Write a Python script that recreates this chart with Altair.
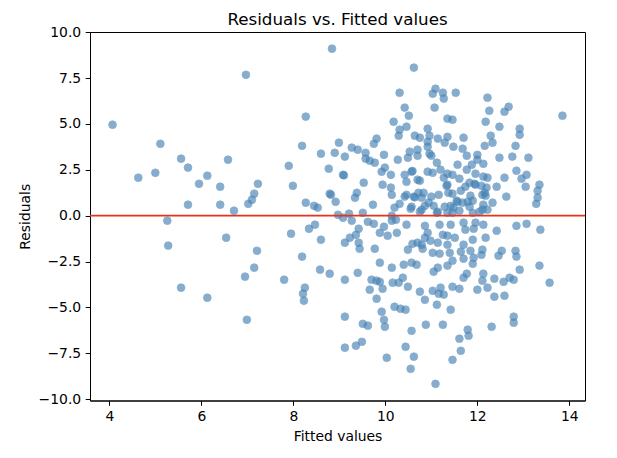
import altair as alt
import pandas as pd

# Fitted values (x) and residuals (y)
fitted = [
    4.07, 4.63, 5.00, 5.11, 5.26, 5.28, 5.56, 5.56, 5.71, 5.71,
    5.95, 6.13, 6.13, 6.41, 6.41, 6.54, 6.58, 6.71, 6.97, 6.95,
    6.99, 7.02, 7.10, 7.15, 7.15, 7.21, 7.23, 7.80, 7.90, 7.95,
    7.99,
    8.19, 8.27, 8.19, 8.25, 8.21, 8.23, 8.27, 8.34, 8.45, 8.47,
    8.53, 8.58, 8.60, 8.60, 8.77, 8.79, 8.79,
    8.84, 8.82, 8.92, 8.90, 8.99, 8.97, 9.08, 9.10, 9.08, 9.12,
    9.12, 9.12, 9.12, 9.12, 9.23, 9.27, 9.27, 9.36, 9.34, 9.38,
    9.36, 9.40, 9.40, 9.42, 9.42, 9.44, 9.21,
    9.49, 9.51, 9.51, 9.53, 9.57, 9.57, 9.66, 9.62, 9.62, 9.66,
    9.70, 9.73, 9.75, 9.75, 9.77, 9.77, 9.81, 9.81, 9.81, 9.88,
    9.88, 9.88, 9.92, 9.92, 9.94, 9.94, 9.97, 9.97, 9.97, 9.99,
    9.99, 10.03, 10.05, 10.12, 10.12, 10.14, 10.14, 10.14, 10.14, 10.16,
    10.18, 10.20, 10.20,
    10.23, 10.25, 10.27, 10.29, 10.29, 10.31, 10.31, 10.31, 10.33, 10.38,
    10.42, 10.42, 10.42, 10.44, 10.44, 10.46, 10.46, 10.46, 10.46, 10.49,
    10.49, 10.49, 10.51, 10.53, 10.55, 10.55, 10.57, 10.59, 10.57, 10.57,
    10.57, 10.59, 10.62, 10.62, 10.64, 10.62, 10.64, 10.68, 10.70, 10.70,
    10.70, 10.70, 10.72, 10.75, 10.75, 10.75, 10.75, 10.79, 10.79, 10.79,
    10.40,
    10.81, 10.83, 10.86, 10.86, 10.86, 10.86, 10.88, 10.92, 10.92, 10.92,
    10.92, 10.92, 10.94, 10.96, 10.96, 10.98, 11.00, 11.00, 11.03, 11.09,
    11.03, 11.03, 11.03, 11.05, 11.05, 11.07, 11.09, 11.12, 11.12, 11.12,
    11.14, 11.14, 11.14, 11.14, 11.16, 11.16, 11.18, 11.18, 11.20, 11.25,
    11.25, 11.25, 11.27, 11.27, 11.27, 11.29, 11.29, 11.33, 11.35, 11.35,
    11.35, 11.35, 11.35, 11.35, 11.35, 11.37, 11.40, 11.20, 11.35,
    11.42, 11.42, 11.42, 11.46, 11.46, 11.46, 11.46, 11.46, 11.46, 11.46,
    11.48, 11.48, 11.51, 11.53, 11.55, 11.57, 11.57, 11.61, 11.61, 11.61,
    11.61, 11.64, 11.64, 11.64, 11.68, 11.68, 11.70, 11.70, 11.70, 11.70,
    11.70, 11.74, 11.74, 11.77, 11.77, 11.77, 11.79, 11.79, 11.81, 11.83,
    11.83, 11.85, 11.85, 11.88, 11.90, 11.90, 11.90, 11.90, 11.92, 11.92,
    11.94, 11.96, 11.96, 11.96, 12.00, 12.00, 12.00, 12.05,
    12.09, 12.09, 12.11, 12.11, 12.11, 12.11, 12.13, 12.13, 12.13, 12.13,
    12.13, 12.16, 12.16, 12.18, 12.18, 12.18, 12.20, 12.22, 12.22, 12.22,
    12.22, 12.26, 12.29, 12.33, 12.33, 12.31, 12.37, 12.37, 12.42, 12.42,
    12.46, 12.48, 12.48, 12.53, 12.57, 12.59, 12.59, 12.59, 12.63, 12.68,
    12.70,
    12.76, 12.79, 12.79, 12.79, 12.83, 12.83, 12.85, 12.85, 12.85, 12.92,
    12.92, 12.92, 12.96, 13.05, 13.07, 13.07, 13.11, 13.28, 13.31, 13.31,
    13.35, 13.35, 13.37, 13.57, 13.85,
]
residuals = [
    4.96, 2.07, 2.34, 3.92, -0.27, -1.63, 3.11, -3.92, 2.62, 0.60,
    1.74, 2.18, -4.47, 1.58, 0.60, -1.20, 3.05, 0.27, 7.68, -3.32,
    -5.67, 0.65, 0.87, 1.20, -2.83, -1.91, 1.74, -3.49, 2.72, -0.98,
    1.63,
    3.81, 5.40, -2.23, -3.92, -4.25, -4.63, 0.71, -0.71, 0.54, -0.49,
    0.44, -2.94, -1.31, 3.38, 2.56, 1.20, -3.16,
    9.10, 1.14, 0.76, 3.43, 3.98, 0.05, 2.23, 2.20, -0.11, 3.22,
    -1.47, -3.49, -5.50, -7.19, -1.20, 3.71, -0.27, -1.04, 0.98, 1.25,
    -7.08, 3.60, -3.11, -0.71, -1.47, -1.80, 0.11,
    -6.87, 0.16, -5.89, 1.80, 3.43, 3.11, 3.00, -0.33, -5.99, -4.03,
    -3.49, 0.60, 3.92, -0.44, 2.89, -1.80, 4.20, -3.54, -4.52, -0.93,
    -2.56, -3.60, 2.40, -5.23, 1.69, -3.98, 3.32, -0.60, -5.67, 2.62,
    -6.05, -7.74, -1.09, 2.23, 1.53, 1.14, 0.00, -0.27, -2.83, -3.65,
    5.12, 0.44, -4.96,
    -0.22, -0.93, 3.05, 4.36, -3.65, 6.70, 4.69, 0.65, -5.07, -3.38,
    1.04, 2.23, 5.89, -5.12, -7.14, 4.85, 1.85, 1.14, -0.49, 3.16,
    -1.85, -3.87, 5.45, 3.49, 0.38, -8.34, 2.40, 2.44, 0.49, -2.56,
    -6.27, -1.53, 8.07, 1.04, 1.00, -7.68, 4.36, -2.67, 3.60, 3.27,
    1.96, -1.47, 1.25, 4.25, 1.91, 0.22, -4.14, 0.98, 0.33, -1.58,
    -2.67,
    -1.80, 1.25, 0.54, -0.55, -1.20, -4.58, -5.94, 4.74, 4.03, 3.76,
    2.40, -0.93, 0.71, 4.36, 3.38, -1.36, 3.27, 1.04, 6.65, 6.92,
    2.34, -2.02, -4.09, 0.54, -3.05, 5.89, -9.16, 2.89, 0.16, -4.85,
    4.20, 0.22, -1.47, -2.83, 1.14, -4.25, -0.49, -2.07, 2.51, 6.70,
    -1.04, -5.94, 6.38, 2.07, -4.30, 3.98, 0.49, 1.63, 5.29, 4.30,
    2.29, 1.69, -1.09, -1.58, -2.72, 1.25, -2.02, -3.92, 0.16,
    0.54, -0.49, -5.12, 5.23, 2.23, 1.20, 0.16, -2.45, -3.87, -7.85,
    3.76, 0.44, -1.20, 6.70, 0.82, 2.78, 0.76, 2.02, 0.27, -3.98,
    -6.70, 1.36, -1.96, -7.36, 3.65, 0.71, 4.25, -0.38, -1.58, -2.34,
    -3.38, 1.58, -0.76, 3.27, 2.51, -3.16, 0.76, -6.21, -6.54, 1.80,
    0.49, 1.09, -1.91, 2.78, 0.82, 0.16, -1.31, -2.62, -0.71, -2.29,
    1.74, 2.29, 1.69, -0.38, 3.32, 3.05, -4.03, 0.22,
    1.63, -2.13, 1.14, 0.33, -1.85, -3.54, 2.83, 2.13, 0.60, -0.49,
    -3.16, 3.81, 1.25, 5.12, 1.09, -1.20, 1.53, 6.43, 2.07, 0.33,
    -3.92, 5.72, 4.36, 3.98, 0.71, -6.05, -3.43, -4.41, 1.58, -0.82,
    -2.18, 4.85, 3.16, -1.91, -3.60, 5.67, 2.07, -4.36, 1.04, 5.94,
    -3.38,
    3.22, -3.49, -5.50, -5.83, 3.81, -1.91, 2.45, -0.55, -2.23, 4.74,
    4.41, -2.94, 2.02, 1.58, 2.23, -0.44, 3.16, 0.65, 1.36, 0.98,
    1.69, -2.72, -0.76, -3.65, 5.45,
]

x_ticks = [4, 6, 8, 10, 12, 14]
y_ticks = [-10.0, -7.5, -5.0, -2.5, 0.0, 2.5, 5.0, 7.5, 10.0]
zero_line = [0.0]

df = pd.DataFrame({"fitted": fitted, "resid": residuals})
zdf = pd.DataFrame({"y": zero_line})

FONT = "DejaVu Sans"

points = alt.Chart(df).mark_circle(
    size=60, color="#4682b4", opacity=0.65, stroke="#4682b4", strokeWidth=0.8
).encode(
    x=alt.X(
        "fitted:Q",
        scale=alt.Scale(domain=[3.58, 14.34], nice=False, zero=False),
        axis=alt.Axis(values=x_ticks, format="d", title="Fitted values",
                      titlePadding=6),
    ),
    y=alt.Y(
        "resid:Q",
        scale=alt.Scale(domain=[-10.07, 10.01], nice=False, zero=False),
        axis=alt.Axis(values=y_ticks, format=".1f", title="Residuals",
                      titlePadding=6),
    ),
)

rule = alt.Chart(zdf).mark_rule(color="#e8331c", strokeWidth=1.8).encode(
    y="y:Q"
)

chart = alt.layer(points, rule).properties(
    width=495,
    height=368.5,
    title=alt.TitleParams(
        "Residuals vs. Fitted values", font=FONT, fontSize=16.7,
        fontWeight="normal", color="black", offset=-3.5, anchor="middle",
    ),
    padding={"left": 10, "top": 3, "right": 10, "bottom": 10},
).configure_view(
    stroke="black", strokeWidth=1
).configure_axis(
    grid=False,
    labelFont=FONT, labelFontSize=13.9, labelColor="black", labelPadding=4.5,
    titleFont=FONT, titleFontSize=13.9, titleFontWeight="normal", titleColor="black",
    domainColor="black", domainWidth=1, tickColor="black", tickSize=4.8, tickWidth=1,
)

chart.save("out.html", embed_options={"renderer": "svg", "actions": False})
